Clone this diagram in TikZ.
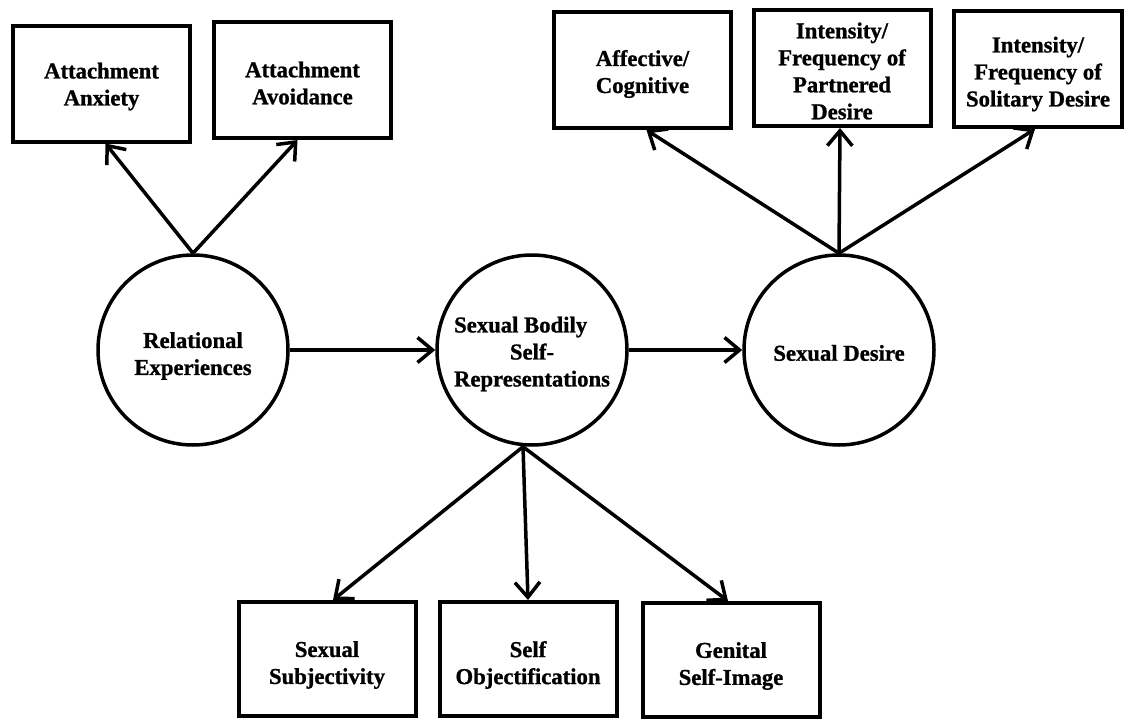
\documentclass[tikz,border=0pt]{standalone}
\usepackage{fontspec}
\setmainfont{Liberation Serif}[BoldFeatures={FakeBold=1}]
\usetikzlibrary{arrows.meta}
\begin{document}
\begin{tikzpicture}[x=1pt,y=-1pt,
  lbl/.style={font=\bfseries\fontsize{22.7}{27}\selectfont, align=center, inner sep=0pt},
  box/.style={draw, line width=4pt, minimum width=177pt, minimum height=116pt, inner sep=0pt},
  lowbox/.style={box, minimum height=114pt},
  latent/.style={draw, circle, line width=3.5pt, minimum size=190pt, inner sep=0pt},
  txt/.style 2 args={label={[lbl, yshift=-#1pt]center:{#2}}},
  conn/.style={line width=3.5pt, -{Straight Barb[length=15pt,width=25pt]}}]
\useasboundingbox (0,0) rectangle (1127,720);
\fill[white] (0,0) rectangle (1127,720);
% top boxes
\node[box, txt={3}{Attachment\\Anxiety}] (anx) at (101.5,83.5) {};
\node[box, txt={3}{Attachment\\Avoidance}] (avd) at (302.5,80) {};
\node[box, txt={4}{Affective/\\Cognitive}] (aff) at (642.5,70) {};
\node[box, txt={3}{Intensity/\\Frequency of\\Partnered\\Desire}] (part) at (842,68) {};
\node[box, minimum width=168pt, txt={5}{Intensity/\\Frequency of\\Solitary Desire}] (sol) at (1038,69) {};
% latent variables
\node[latent, txt={6}{Relational\\Experiences}] (rel) at (193,350) {};
\node[latent, txt={4}{Sexual Bodily\hphantom{xx}\\Self-\\Representations}] (sbsr) at (532,350) {};
\node[latent, txt={3}{Sexual Desire}] (des) at (839,350) {};
% bottom boxes
\node[lowbox, txt={6}{Sexual\\Subjectivity}] (subj) at (327,659) {};
\node[lowbox, txt={6}{Self\\Objectification}] (obj) at (528,659) {};
\node[lowbox, txt={6}{Genital\\Self-Image}] (gen) at (731,660) {};
% connectors
\draw[conn] (rel.north) -- ([xshift=4pt]anx.south);
\draw[conn] (rel.north) -- ([xshift=-5pt]avd.south);
\draw[conn] (rel.east) -- (sbsr.west);
\draw[conn] (sbsr.east) -- (des.west);
\draw[conn] (des.north) -- ([xshift=4pt]aff.south);
\draw[conn] (des.north) -- ([xshift=-2pt]part.south);
\draw[conn] (des.north) -- ([xshift=-3pt]sol.south);
\draw[conn] ([xshift=-9pt]sbsr.south) -- ([xshift=6pt]subj.north);
\draw[conn] ([xshift=-9pt]sbsr.south) -- (obj.north);
\draw[conn] ([xshift=-9pt]sbsr.south) -- ([xshift=-3pt]gen.north);
\end{tikzpicture}
\end{document}
